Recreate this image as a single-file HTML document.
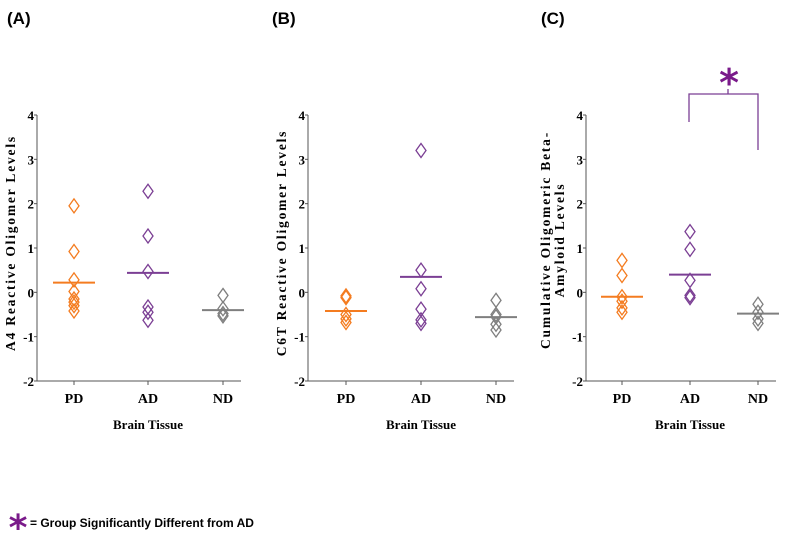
<!DOCTYPE html>
<html><head><meta charset="utf-8"><style>
body{margin:0;background:#fff;width:800px;height:534px;overflow:hidden}
svg text{font-family:"Liberation Serif",serif;font-weight:bold}
</style></head><body>
<svg id="chart" width="800" height="534" xmlns="http://www.w3.org/2000/svg"></svg>
<script>
const categories=["PD","AD","ND"];
const colors=["#f47c20","#7b3f94","#7f7f7f"];
const yTicks=[-2,-1,0,1,2,3,4];
const titles=["A4 Reactive Oligomer Levels","C6T Reactive Oligomer Levels","Cumulative Oligomeric Beta-|Amyloid Levels"];
const panelLabels=["(A)","(B)","(C)"];
const aPD=[1.95,0.92,0.28,0.02,-0.15,-0.22,-0.3,-0.42];
const aAD=[2.28,1.27,0.47,-0.33,-0.45,-0.63];
const aND=[-0.07,-0.37,-0.48,-0.53];
const aMeans=[0.22,0.44,-0.4];
const bPD=[-0.08,-0.12,-0.5,-0.6,-0.68];
const bAD=[3.2,0.5,0.08,-0.38,-0.62,-0.7];
const bND=[-0.18,-0.5,-0.55,-0.72,-0.85];
const bMeans=[-0.42,0.35,-0.56];
const cPD=[0.72,0.38,-0.1,-0.2,-0.35,-0.45];
const cAD=[1.37,0.97,0.27,-0.07,-0.12];
const cND=[-0.27,-0.45,-0.6,-0.7];
const cMeans=[-0.1,0.4,-0.48];
const panels=[
 {ax:37,cx:[74,148,223],pts:[aPD,aAD,aND],means:aMeans},
 {ax:308,cx:[346,421,496],pts:[bPD,bAD,bND],means:bMeans},
 {ax:586,cx:[622,690,758],pts:[cPD,cAD,cND],means:cMeans}
];
const svg=document.getElementById('chart');
const NS="http://www.w3.org/2000/svg";
function mk(tag,attrs,txt){const e=document.createElementNS(NS,tag);for(const k in attrs)e.setAttribute(k,attrs[k]);if(txt!==undefined)e.textContent=txt;svg.appendChild(e);return e;}
const yTop=115,yBot=381;
function yS(v){return yBot-(v+2)*(yBot-yTop)/6;}
panels.forEach((p,pi)=>{
  const pl=mk('text',{x:[7,272,541][pi],y:24,'font-size':17,style:'font-family:"Liberation Sans",sans-serif'},panelLabels[pi]);
  
  
  const ya=mk('line',{x1:p.ax,x2:p.ax,y1:yTop,y2:yBot,stroke:'#555','stroke-width':1});
  
  
  const xa=mk('line',{x1:p.ax,x2:p.cx[2]+18,y1:yBot,y2:yBot,stroke:'#555','stroke-width':1});
  
  
  yTicks.forEach(t=>{
    mk('line',{x1:p.ax-3,x2:p.ax,y1:yS(t),y2:yS(t),stroke:'#555'});
    const tl=mk('text',{x:p.ax-3,y:yS(t)+5,'font-size':13,'text-anchor':'end'},t);
    
    
  });
  categories.forEach((c,ci)=>{
    mk('line',{x1:p.cx[ci],x2:p.cx[ci],y1:yBot,y2:yBot+4,stroke:'#555'});
    const cl=mk('text',{x:p.cx[ci],y:yBot+22,'font-size':14,'text-anchor':'middle'},c);
    
    
    p.pts[ci].forEach(v=>{
      const y=yS(v),x=p.cx[ci];
      const d=mk('polygon',{points:`${x},${y-7} ${x+5},${y} ${x},${y+7} ${x-5},${y}`,fill:'none',stroke:colors[ci],'stroke-width':1.3});
      
      
    });
    const m=mk('line',{x1:p.cx[ci]-21,x2:p.cx[ci]+21,y1:yS(p.means[ci]),y2:yS(p.means[ci]),stroke:colors[ci],'stroke-width':2});
    
    
  });
  const xt=mk('text',{x:p.cx[1],y:yBot+48,'font-size':13,'text-anchor':'middle'},'Brain Tissue');
  
  
  const lines=titles[pi].split('|');
  const cy=lines.length>1?240:243;
  lines.forEach((ln,li)=>{
    const tx=p.ax-22+(li-(lines.length-1))*14;
    const t=mk('text',{x:tx,y:cy,'font-size':13.5,'letter-spacing':'1.8px','text-anchor':'middle',transform:`rotate(-90 ${tx} ${cy})`},ln);
    
    
  });
});
const br=mk('path',{d:'M689,122 V94 H758 V150 M728,94 V89',fill:'none',stroke:'#7b3f94','stroke-width':1.3});


const st=mk('text',{x:729,y:96,'font-size':38,'text-anchor':'middle',fill:'#7a1a8a',style:'font-family:"DejaVu Sans",sans-serif'},'*');


const fs=mk('text',{x:18,y:540,'font-size':36,'text-anchor':'middle',fill:'#7a1a8a',style:'font-family:"DejaVu Sans",sans-serif'},'*');


const ft=mk('text',{x:30,y:527,'font-size':12,style:'font-family:"Liberation Sans",sans-serif'},'= Group Significantly Different from AD');


</script>
</body></html>
